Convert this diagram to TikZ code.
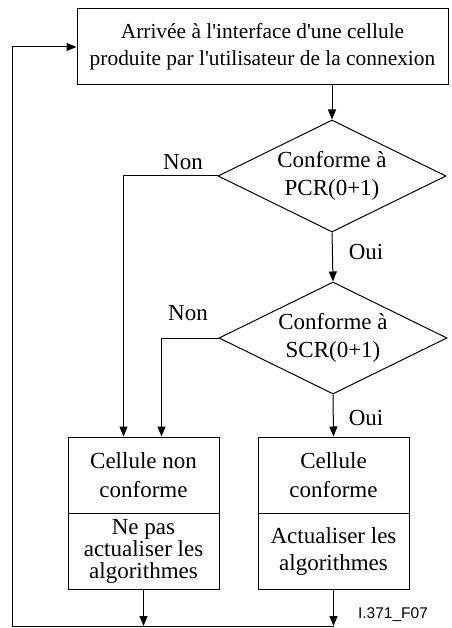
\documentclass[tikz,border=0pt]{standalone}
\usepackage{fontspec}
\setmainfont{Liberation Serif}
\newfontfamily\figsans{Liberation Sans}
\usetikzlibrary{positioning, shapes.geometric, arrows.meta}

\begin{document}
\begin{tikzpicture}[
          x=1pt, y=-1pt,
          line width=1pt,
          box/.style={rectangle,draw,inner sep=0pt,align=center,
            font=\fontsize{23}{27}\selectfont},
          test/.style={diamond,draw,inner sep=0pt,aspect=2,align=center,
            minimum width=228pt,minimum height=112pt,
            font=\fontsize{23}{28}\selectfont},
          lbl/.style={font=\fontsize{23}{26}\selectfont},
          arr/.style={-{Triangle[length=10pt,width=8pt]}}
        ]
        \useasboundingbox (0,0) rectangle (451,628);
        % boxes and tests
        \node[box,minimum width=371pt,minimum height=76pt,
          font=\fontsize{21.4}{27}\selectfont] (arr) at (262.5,47)
          {Arrivée à l\textquotesingle interface d\textquotesingle une cellule\\
           produite par l\textquotesingle utilisateur de la connexion};
        \node[test] (pcr) at (332,176) {Conforme à\\PCR(0+1)};
        \node[test] (scr) at (333,338) {Conforme à\\SCR(0+1)};
        \node[box,minimum width=151pt,minimum height=76pt,
          font=\fontsize{23}{29}\selectfont] (nc) at (143.5,475)
          {Cellule non\\conforme};
        \node[box,minimum width=151pt,minimum height=76pt,
          font=\fontsize{23}{22}\selectfont] (nca) at (143.5,551)
          {Ne pas\\actualiser les\\algorithmes};
        \node[box,minimum width=151pt,minimum height=76pt,
          font=\fontsize{23}{29}\selectfont] (c) at (333.5,475)
          {Cellule\\conforme};
        \node[box,minimum width=151pt,minimum height=76pt] (ca) at (333.5,551)
          {Actualiser les\\algorithmes};
        % labels
        \node[lbl] (non1) at (183,162) {Non};
        \node[lbl] (oui1) at (366,252) {Oui};
        \node[lbl] (non2) at (188,313) {Non};
        \node[lbl] (oui2) at (366,418) {Oui};
        \node[font=\figsans\fontsize{15.5}{17}\selectfont] (fig) at (393,615) {I.371\_F07};
        % loop corners
        \coordinate (bl) at (12,626);
        \coordinate (br) at (333.5,626);
        % connectors
        \draw[arr] (arr.south -| pcr) -- (pcr.north);
        \draw[arr] (pcr.south) -- (scr.north);
        \draw[arr] (scr.south) -- (c.north);
        \draw[arr] (pcr.west) -| ([xshift=56pt]nc.north west);
        \draw[arr] (scr.west) -| ([xshift=94pt]nc.north west);
        \draw[arr] (nca.south) -- (nca.south |- bl);
        \draw[arr] (ca.south) -- (br);
        \draw[arr] (br) -- (bl) |- (arr.west);
      \end{tikzpicture}
\end{document}
